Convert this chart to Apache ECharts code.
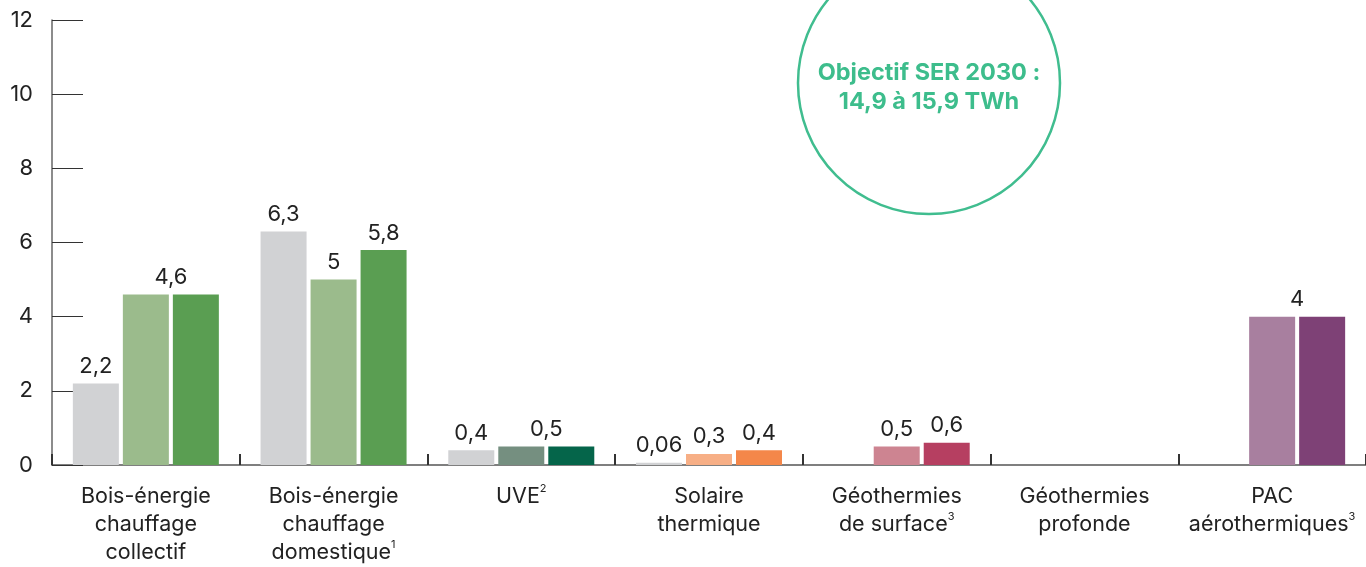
<!DOCTYPE html>
<html><head><meta charset="utf-8">
<script src="https://cdn.jsdelivr.net/npm/echarts@6/dist/echarts.min.js"></script>
<style>html,body{margin:0;padding:0;background:#fff}#c{width:1366px;height:567px}</style>
</head><body><div id="c"></div>
<script>
const categories = ['Bois-énergie\nchauffage\ncollectif', 'Bois-énergie\nchauffage\ndomestique{sup|1}', 'UVE{sup|2}', 'Solaire\nthermique', 'Géothermies\nde surface{sup|3}', 'Géothermies\nprofonde', 'PAC\naérothermiques{sup|3}'];
const series1 = [2.2, 6.3, 0.4, 0.06, null, null, null];
const series2 = [4.6, 5, 0.5, 0.3, 0.5, null, 4];
const series3 = [4.6, 5.8, 0.5, 0.4, 0.6, null, 4];
const yTicks = [0, 2, 4, 6, 8, 10, 12];
const colors1 = ['#d1d2d4', '#d1d2d4', '#d1d2d4', '#d1d2d4', '#d1d2d4', '#d1d2d4', '#d1d2d4'];
const colors2 = ['#9bbb8c', '#9bbb8c', '#758f80', '#f7af86', '#cd8491', '#cd8491', '#a87f9f'];
const colors3 = ['#5a9e52', '#5a9e52', '#05654a', '#f4874a', '#b63f61', '#b63f61', '#7e4176'];

const FONT = 'Inter';
const fmt = v => String(v).replace('.', ',');
const baseLabel = {show: true, position: 'top', distance: 6, color: '#222', fontSize: 22, fontFamily: FONT, formatter: p => fmt(p.value)};

function build(vals, cols, idx) {
  return vals.map((v, i) => {
    const item = {value: v, itemStyle: {color: cols[i]}};
    if (idx === 2 && v !== null && series3[i] === v) item.label = {offset: [25, 0]};
    if (idx === 3 && v !== null && series2[i] === v) item.label = {show: false};
    return item;
  });
}

const chart = echarts.init(document.getElementById('c'), null, {renderer: 'canvas'});
chart.setOption({
  animation: false,
  grid: {left: 52, right: 0, top: 20, bottom: 92, containLabel: false},
  xAxis: {
    type: 'category', data: categories,
    axisLine: {lineStyle: {color: '#555', width: 1.5}},
    axisTick: {show: true, inside: true, length: 11, lineStyle: {color: '#333', width: 2}},
    axisLabel: {
      color: '#222', fontSize: 21.5, fontFamily: FONT, lineHeight: 28, margin: 18, interval: 0,
      rich: {sup: {fontSize: 11, fontFamily: FONT, color: '#222', verticalAlign: 'top', lineHeight: 28, padding: [0, 0, 10, 0]}}
    }
  },
  yAxis: {
    type: 'value', min: 0, max: 12, interval: 2,
    axisLine: {show: true, lineStyle: {color: '#666', width: 1.5}},
    axisTick: {show: true, inside: true, length: 31, lineStyle: {color: '#333', width: 1}},
    splitLine: {show: false},
    axisLabel: {color: '#222', fontSize: 22, fontFamily: FONT, margin: 19, formatter: v => yTicks.includes(v) ? String(v) : ''}
  },
  series: [
    {type: 'bar', data: build(series1, colors1, 1), barWidth: 46, barGap: '8.7%', label: baseLabel},
    {type: 'bar', data: build(series2, colors2, 2), barWidth: 46, barGap: '8.7%', label: baseLabel},
    {type: 'bar', data: build(series3, colors3, 3), barWidth: 46, barGap: '8.7%', label: baseLabel}
  ],
  graphic: [
    {type: 'circle', shape: {cx: 929, cy: 83, r: 131}, style: {fill: 'none', stroke: '#40bd8f', lineWidth: 2.5}, z: 10},
    {type: 'text', x: 929, y: 87, style: {text: 'Objectif SER 2030 :\n14,9 à 15,9 TWh', fill: '#3dbd8c', font: 'bold 23.5px Inter', textAlign: 'center', textVerticalAlign: 'middle', lineHeight: 29}, z: 10}
  ]
});
</script></body></html>
